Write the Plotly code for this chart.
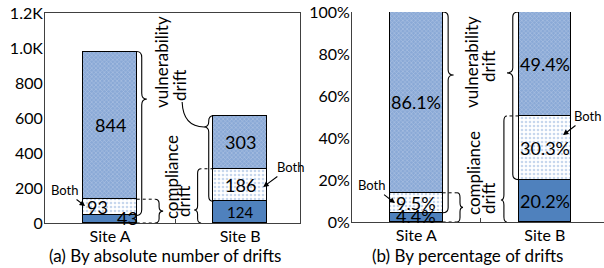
import plotly.graph_objects as go

# ---------------- data ----------------
sites = ["Site A", "Site B"]
compliance_only = [43, 124]
both = [93, 186]
vulnerability_only = [844, 303]

pct_compliance_only = [4.4, 20.2]
pct_both = [9.5, 30.3]
pct_vulnerability_only = [86.1, 49.4]

count_tickvals = [0, 200, 400, 600, 800, 1000, 1200]
count_ticktext = ["0", "200", "400", "600", "800", "1.0K", "1.2K"]
pct_tickvals = [0, 20, 40, 60, 80, 100]
pct_ticktext = ["0%", "20%", "40%", "60%", "80%", "100%"]

titles = ["(a) By absolute number of drifts", "(b) By percentage of drifts"]

# ---------------- style ----------------
FONT = "Lato"
DARK = "#4F81BD"
BAR_W = 0.41
XPOS = [0, 1]
LINE = dict(color="black", width=1.2)

styles = [
    dict(color=DARK, pattern=None),
    dict(color="white", pattern=dict(shape=".", fgcolor="#8FB0DC", bgcolor="white",
                                     size=4, solidity=0.35)),
    dict(color="#9AB5DC", pattern=dict(shape="x", fgcolor="#C9D8EE", bgcolor="#8AA9D6",
                                       size=3, solidity=0.4)),
]

fig = go.Figure()

panels = [
    ("x", "y", [compliance_only, both, vulnerability_only], False),
    ("x2", "y2", [pct_compliance_only, pct_both, pct_vulnerability_only], True),
]

annotations = []
for xa, ya, series, is_pct in panels:
    bottoms = [0, 0]
    for k, vals in enumerate(series):
        st = styles[k]
        marker = dict(color=st["color"], line=LINE)
        if st["pattern"]:
            marker["pattern"] = st["pattern"]
        fig.add_trace(go.Bar(x=XPOS, y=vals, width=BAR_W, marker=marker,
                             xaxis=xa, yaxis=ya, showlegend=False, hoverinfo="skip"))
        for i, v in enumerate(vals):
            txt = f"{v}%" if is_pct else f"{v}"
            size = 18
            xshift = 0
            yshift = 0
            if k == 0 and i == 0:
                yshift = 1
            if k == 0 and not is_pct and i == 0:
                xshift = 17
            if k == 1 and not is_pct and i == 0:
                xshift = -13
            if k == 0 and not is_pct and i == 1:
                size = 15
            annotations.append(dict(x=XPOS[i], y=bottoms[i] + v / 2, xref=xa, yref=ya,
                                    text=txt, showarrow=False, xshift=xshift, yshift=yshift,
                                    xanchor="center", yanchor="middle",
                                    font=dict(family=FONT, size=size, color="black")))
            bottoms[i] += v

fig.update_layout(barmode="stack")

# ---------------- braces ----------------
def brace(x0, w, y_top, y_bot, y_tip, r):
    xm = x0 + w / 2
    xt = x0 + w
    return (f"M {x0},{y_top} Q {xm},{y_top} {xm},{y_top - r} "
            f"L {xm},{y_tip + r} Q {xm},{y_tip} {xt},{y_tip} "
            f"Q {xm},{y_tip} {xm},{y_tip - r} "
            f"L {xm},{y_bot + r} Q {xm},{y_bot} {x0},{y_bot}")

shapes = []
def add_path(p, xa, ya, dash="solid"):
    shapes.append(dict(type="path", path=p, xref=xa, yref=ya,
                       line=dict(color="black", width=1.1, dash=dash),
                       fillcolor="rgba(0,0,0,0)"))

def add_dotted(x0, x1, y, xa, ya):
    shapes.append(dict(type="line", x0=x0, x1=x1, y0=y, y1=y, xref=xa, yref=ya,
                       line=dict(color="black", width=1, dash="dot")))

half = BAR_W / 2
# left panel (counts)
totA = compliance_only[0] + both[0] + vulnerability_only[0]
totB = compliance_only[1] + both[1] + vulnerability_only[1]
compA = compliance_only[0] + both[0]
compB = compliance_only[1] + both[1]
add_path(brace(XPOS[0] + half, 0.077, totA, compliance_only[0], 708, 34), "x", "y")
add_dotted(XPOS[0] + half, 0.346, compA, "x", "y")
add_dotted(XPOS[0] + half, 0.346, 0, "x", "y")
add_path(brace(0.346, 0.062, compA, 0, compA / 2, 25), "x", "y")
add_path(brace(XPOS[1] - half, -0.073, totB, compliance_only[1], 549, 29), "x", "y")
add_path("M 0.554,691 Q 0.562,549 0.723,549", "x", "y")
add_dotted(XPOS[1] - half, 0.70, compB, "x", "y")
add_path(brace(0.70, -0.054, compB, 0, 74, 25), "x", "y")

# right panel (percent)
pcompA = pct_compliance_only[0] + pct_both[0]
pcompB = pct_compliance_only[1] + pct_both[1]
add_path(brace(XPOS[0] + half, 0.0855, 100, pct_compliance_only[0], 70, 2.4), "x2", "y2")
add_dotted(XPOS[0] + half, 0.3165, pcompA, "x2", "y2")
add_dotted(XPOS[0] + half, 0.3165, 0, "x2", "y2")
add_path(brace(0.3165, 0.047, pcompA, 0, pcompA / 2, 2.2), "x2", "y2")
add_path(brace(XPOS[1] - half, -0.089, 100, pct_compliance_only[1], 71, 2.4), "x2", "y2")
add_dotted(XPOS[1] - half, 0.705, pcompB, "x2", "y2")
add_path(brace(0.705, -0.047, pcompB, 0, 10.5, 2.4), "x2", "y2")

# ---------------- rotated labels ----------------
def rot(text, x, y, xa, ya):
    annotations.append(dict(x=x, y=y, xref=xa, yref=ya, text=text, showarrow=False,
                            textangle=-90, xanchor="center", yanchor="middle",
                            font=dict(family=FONT, size=17, color="black")))

rot("vulnerability", 0.40, 920, "x", "y")
rot("drift", 0.538, 789, "x", "y")
rot("compliance", 0.477, 263, "x", "y")
rot("drift", 0.569, 126, "x", "y")
rot("vulnerability", 0.433, 76.2, "x2", "y2")
rot("drift", 0.565, 74.3, "x2", "y2")
rot("compliance", 0.441, 23.3, "x2", "y2")
rot("drift", 0.558, 11.4, "x2", "y2")

# ---------------- "Both" arrows ----------------
def both_arrow(x, y, ax, ay, xa, ya):
    annotations.append(dict(x=x, y=y, xref=xa, yref=ya, text="Both", showarrow=True,
                            ax=ax, ay=ay, arrowhead=2, arrowsize=1, arrowwidth=1.1,
                            arrowcolor="black", standoff=0, startstandoff=0,
                            font=dict(family=FONT, size=13, color="black")))

both_arrow(-0.192, 97, -21, -16, "x", "y")
both_arrow(1.177, 206, 27, -20, "x", "y")
both_arrow(-0.166, 9.0, -23, -18, "x2", "y2")
both_arrow(1.141, 41.4, 25, -19, "x2", "y2")

# ---------------- titles ----------------
for tx, t in zip([165 / 604, 467 / 604], titles):
    annotations.append(dict(x=tx, y=13 / 268, xref="paper", yref="paper", text=t,
                            xanchor="center", yanchor="middle", showarrow=False,
                            font=dict(family=FONT, size=17, color="black")))

axis_common = dict(showgrid=False, zeroline=False, linecolor="#404040", linewidth=1,
                   automargin=False)
xcommon = dict(axis_common, range=[-0.5, 1.46], tickvals=XPOS, ticktext=sites, ticks="",
               ticklabelstandoff=-1,
               tickfont=dict(family=FONT, size=16, color="black"),
               minor=dict(tickvals=[0.5], ticks="inside", ticklen=4, tickcolor="#404040"))
ycommon = dict(axis_common, ticks="", ticklabelstandoff=-2,
               tickfont=dict(family=FONT, size=16, color="black"))

fig.update_layout(
    width=604, height=268, margin=dict(l=0, r=0, t=0, b=0, autoexpand=False),
    paper_bgcolor="white", plot_bgcolor="white",
    bargap=0,
    xaxis=dict(xcommon, domain=[45 / 604, 300 / 604], anchor="y", showline=True, mirror=True),
    yaxis=dict(ycommon, domain=[45 / 268, 255 / 268], anchor="x", range=[0, 1200],
               tickvals=count_tickvals, ticktext=count_ticktext, showline=True, mirror=True),
    xaxis2=dict(xcommon, domain=[352 / 604, 1.0], anchor="y2", showline=True),
    yaxis2=dict(ycommon, domain=[46 / 268, 256 / 268], anchor="x2", range=[0, 100],
                tickvals=pct_tickvals, ticktext=pct_ticktext, showline=True),
    shapes=shapes,
    annotations=annotations,
    font=dict(family=FONT),
)

fig.write_html("out.html", config={"displayModeBar": False},
               post_script="document.body.style.margin='0';")
